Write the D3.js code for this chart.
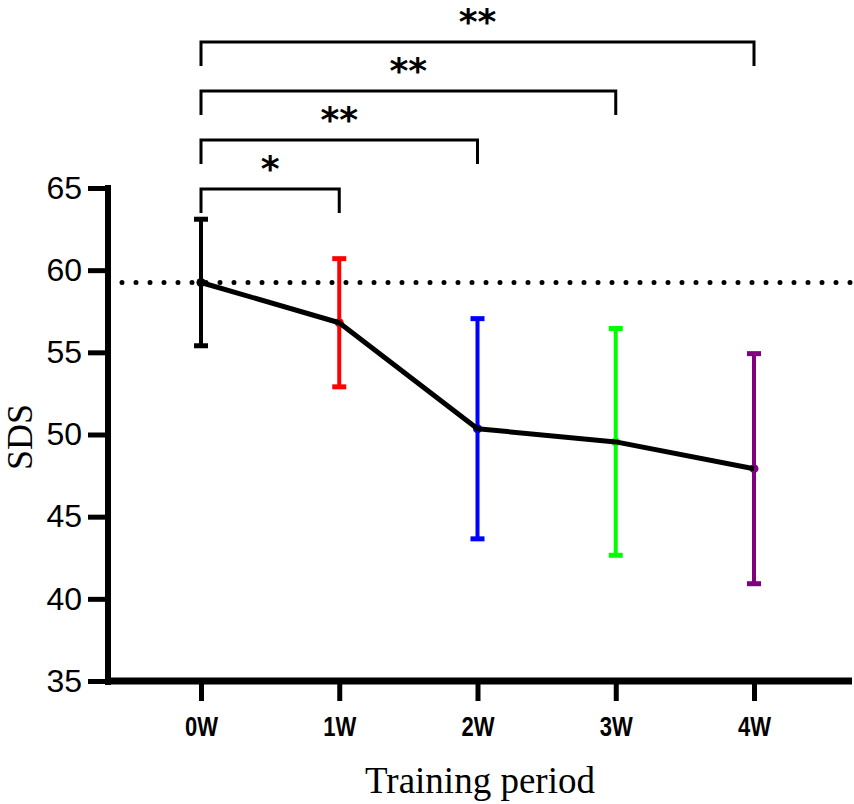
<!DOCTYPE html>
<html>
<head>
<meta charset="utf-8">
<script src="https://cdn.jsdelivr.net/npm/d3@7"></script>
<style>
  body { margin: 0; background: #fff; }
</style>
</head>
<body>
<div id="main"></div>
<script>
// data
const periods = ["0W", "1W", "2W", "3W", "4W"];
const means = [59.25, 56.8, 50.35, 49.55, 47.92];
const sds = [3.85, 3.9, 6.7, 6.9, 7.0];
const barColors = ["#000000", "#ff0000", "#0000ff", "#00ff00", "#800080"];
const yTicks = [35, 40, 45, 50, 55, 60, 65];
// significance brackets: from 0W to target, label
const compTargets = ["1W", "2W", "3W", "4W"];
const compLabels = ["*", "**", "**", "**"];

const width = 854, height = 804;

const svg = d3.select("#main")
  .append("svg")
  .attr("width", width)
  .attr("height", height);

const x = d3.scalePoint().domain(periods).range([201, 754]);
const y = d3.scaleLinear().domain([35, 65]).range([681, 188]);

const rows = periods.map((p, i) => ({ p, m: means[i], sd: sds[i], col: barColors[i] }));

// dotted reference line at baseline mean
svg.append("line")
  .attr("x1", 122).attr("x2", 852)
  .attr("y1", y(means[0])).attr("y2", y(means[0]))
  .attr("stroke", "black")
  .attr("stroke-width", 5)
  .attr("stroke-linecap", "round")
  .attr("stroke-dasharray", "0,14");

// y axis
const yAxis = d3.axisLeft(y).tickValues(yTicks).tickSize(20).tickSizeOuter(0).tickPadding(6);
svg.append("g")
  .attr("transform", "translate(108,0)")
  .call(yAxis)
  .call(g => g.select(".domain").attr("stroke-width", 6).attr("d", `M0,${y(65) - 3}V${y(35) + 4}`))
  .call(g => g.selectAll(".tick line").attr("stroke-width", 5))
  .call(g => g.selectAll(".tick text")
    .attr("font-family", "'Liberation Sans', Arial, sans-serif")
    .attr("font-size", 32)
    .attr("fill", "black"));

// x axis
const xAxis = d3.axisBottom(x).tickSize(20).tickSizeOuter(0).tickPadding(15);
svg.append("g")
  .attr("transform", `translate(0,${y(35)})`)
  .call(xAxis)
  .call(g => g.select(".domain").attr("stroke-width", 7).attr("d", "M105,0H852"))
  .call(g => g.selectAll(".tick line").attr("stroke-width", 5))
  .call(g => g.selectAll(".tick text")
    .attr("font-family", "'Liberation Sans', Arial, sans-serif")
    .attr("font-weight", "bold")
    .attr("font-size", 28)
    .attr("textLength", 33)
    .attr("lengthAdjust", "spacingAndGlyphs")
    .attr("fill", "black"));

// axis titles
svg.append("text")
  .attr("x", 480).attr("y", 793)
  .attr("text-anchor", "middle")
  .attr("font-family", "'Liberation Serif', 'Times New Roman', serif")
  .attr("font-size", 37)
  .text("Training period");

svg.append("text")
  .attr("transform", "translate(32,437) rotate(-90)")
  .attr("text-anchor", "middle")
  .attr("font-family", "'Liberation Serif', 'Times New Roman', serif")
  .attr("font-size", 36)
  .text("SDS");

// error bars
const bars = svg.append("g");
bars.selectAll("line.stem")
  .data(rows)
  .join("line")
  .attr("class", "stem")
  .attr("x1", d => x(d.p)).attr("x2", d => x(d.p))
  .attr("y1", d => y(d.m + d.sd)).attr("y2", d => y(d.m - d.sd))
  .attr("stroke", d => d.col)
  .attr("stroke-width", 4);

bars.selectAll("line.capTop")
  .data(rows)
  .join("line")
  .attr("class", "capTop")
  .attr("x1", d => x(d.p) - 7).attr("x2", d => x(d.p) + 7)
  .attr("y1", d => y(d.m + d.sd)).attr("y2", d => y(d.m + d.sd))
  .attr("stroke", d => d.col)
  .attr("stroke-width", 5);

bars.selectAll("line.capBot")
  .data(rows)
  .join("line")
  .attr("class", "capBot")
  .attr("x1", d => x(d.p) - 7).attr("x2", d => x(d.p) + 7)
  .attr("y1", d => y(d.m - d.sd)).attr("y2", d => y(d.m - d.sd))
  .attr("stroke", d => d.col)
  .attr("stroke-width", 5);

// points
svg.append("g").selectAll("circle")
  .data(rows)
  .join("circle")
  .attr("cx", d => x(d.p))
  .attr("cy", d => y(d.m))
  .attr("r", 4.5)
  .attr("fill", d => d.col);

// mean line
const line = d3.line().x(d => x(d.p)).y(d => y(d.m));
svg.append("path")
  .datum(rows)
  .attr("d", line)
  .attr("fill", "none")
  .attr("stroke", "black")
  .attr("stroke-width", 5)
  .attr("stroke-linejoin", "round");

// significance brackets
const bracketTops = [189, 140, 91, 42];
const brackets = svg.append("g");
compTargets.forEach((t, i) => {
  const x0 = x(periods[0]), x1 = x(t), top = bracketTops[i];
  brackets.append("path")
    .attr("d", `M${x0},${top + 24}V${top}H${x1}V${top + 24}`)
    .attr("fill", "none")
    .attr("stroke", "black")
    .attr("stroke-width", 3);
  brackets.append("text")
    .attr("x", (x0 + x1) / 2)
    .attr("y", top - 8)
    .attr("text-anchor", "middle")
    .attr("font-family", "'DejaVu Sans', sans-serif")
    .attr("font-weight", "bold")
    .attr("font-size", 36)
    .text(compLabels[i]);
});
</script>
</body>
</html>
